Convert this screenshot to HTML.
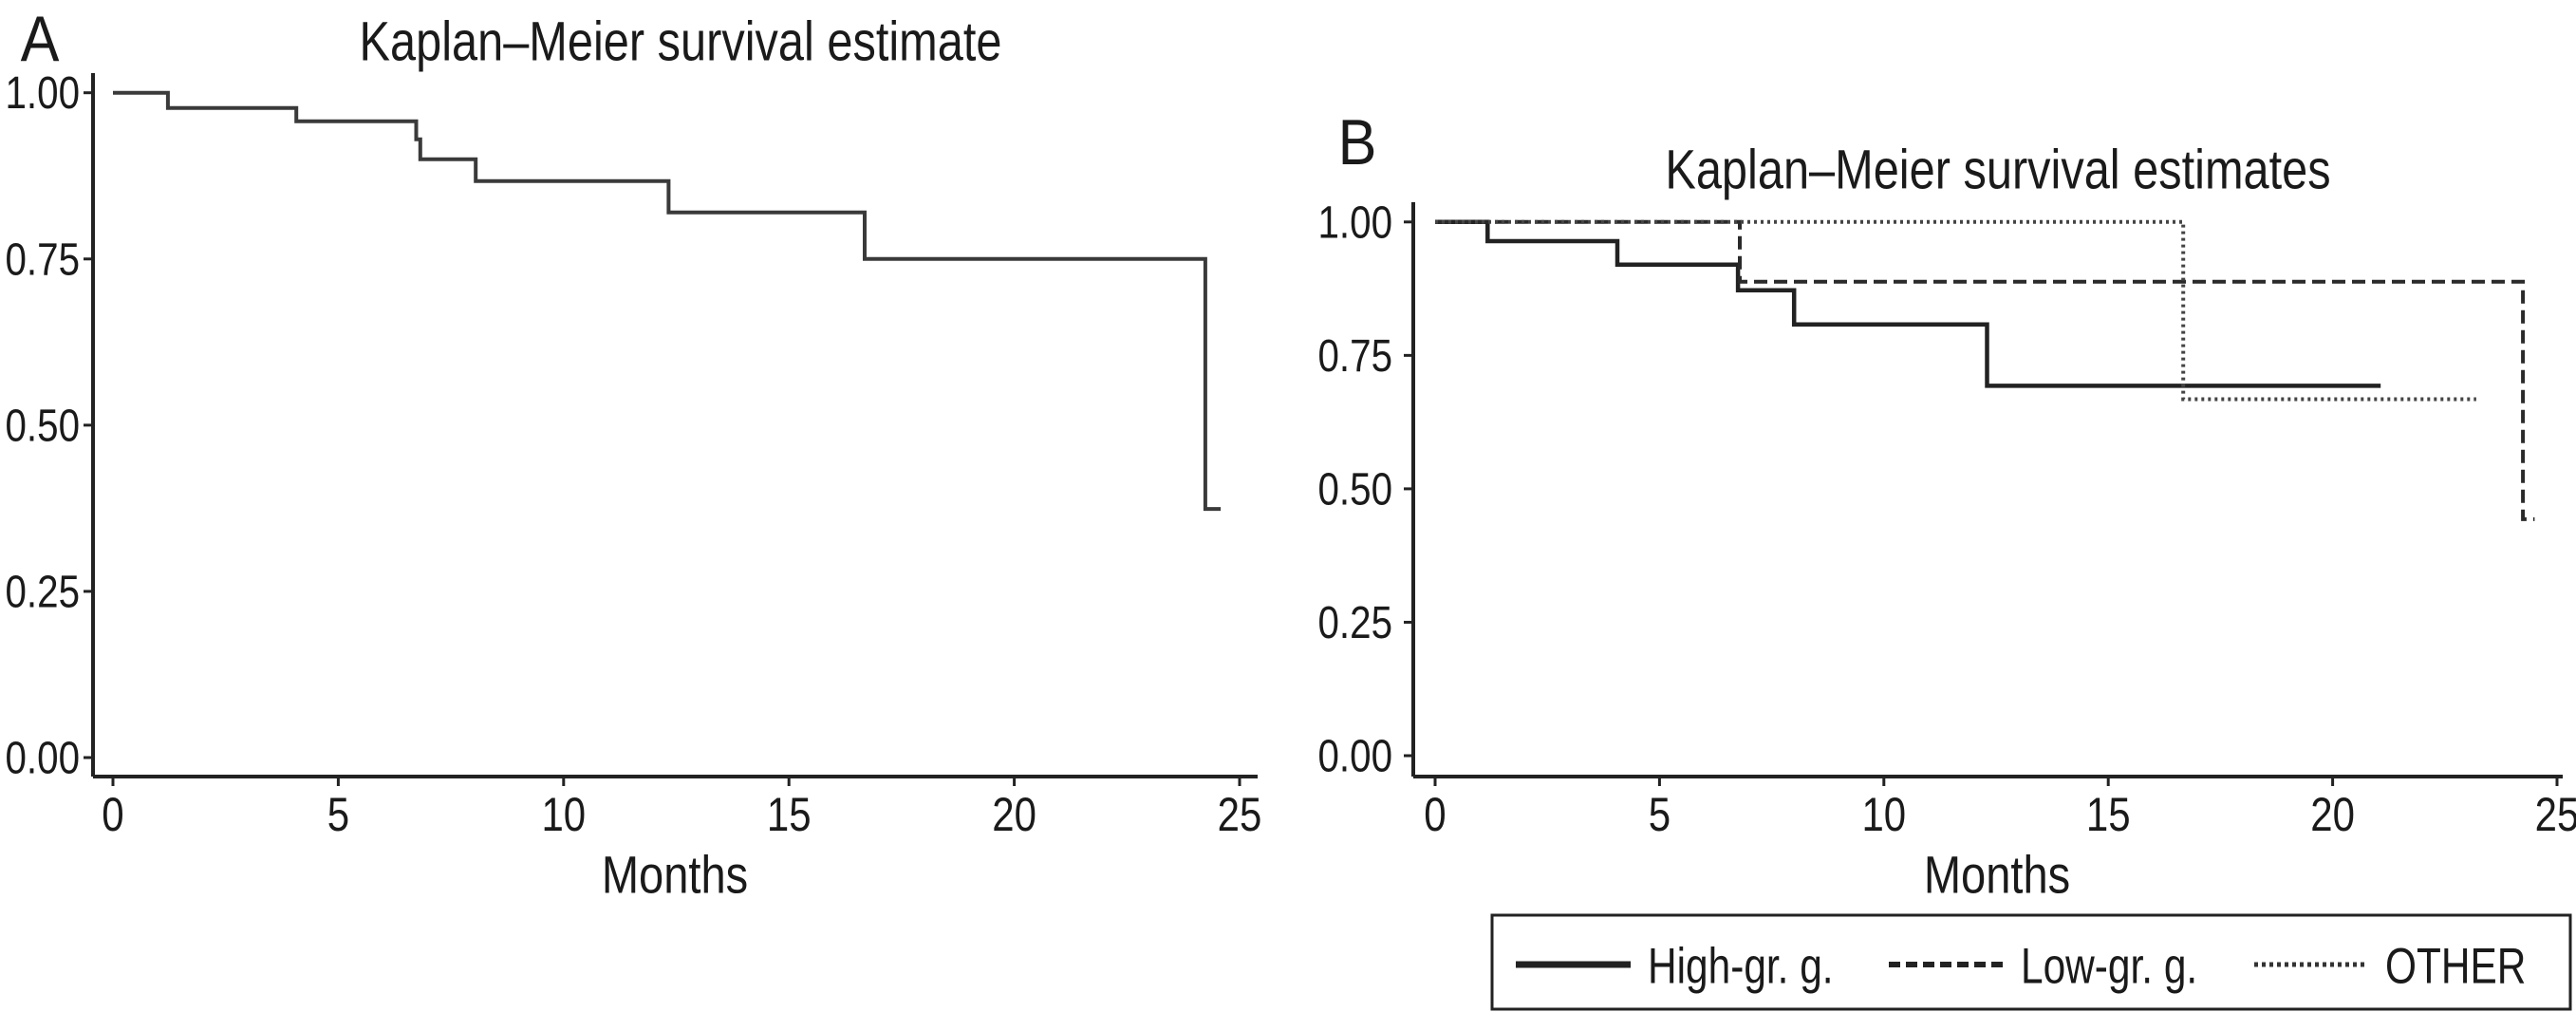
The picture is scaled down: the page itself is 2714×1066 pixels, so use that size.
<!DOCTYPE html>
<html><head><meta charset="utf-8"><style>
html,body{margin:0;padding:0;background:#fff}
svg{display:block}
text{font-family:"Liberation Sans",Arial,sans-serif;fill:#1a1a1a}
</style></head><body>
<svg id="chart" width="2714" height="1066" xmlns="http://www.w3.org/2000/svg"></svg>
<script>
const ticksX = [0,5,10,15,20,25];
const ticksY = [0,0.25,0.5,0.75,1];
const tickYLabels = ["0.00","0.25","0.50","0.75","1.00"];
// Panel A
const aTimes = [0,1.22,4.07,6.73,6.82,8.05,12.33,16.68,24.24,24.58];
const aSurv  = [1,0.977,0.957,0.93,0.90,0.867,0.82,0.75,0.374,0.374];
// Panel B
const highTimes = [0,1.17,4.06,6.75,8.0,12.3,21.07];
const highSurv  = [1,0.964,0.92,0.872,0.808,0.693,0.693];
const lowTimes  = [0,6.79,24.24,24.5];
const lowSurv   = [1,0.888,0.443,0.443];
const otherTimes = [0,16.67,23.2];
const otherSurv  = [1,0.668,0.668];

const NS="http://www.w3.org/2000/svg";
const svg=document.getElementById('chart');
function mk(tag,attrs,parent){const e=document.createElementNS(NS,tag);for(const k in attrs)e.setAttribute(k,attrs[k]);(parent||svg).appendChild(e);return e;}
function txt(s,x,y,size,anchor,parent,squeeze){
  const t=mk('text',{x:x,y:y,'font-size':size,'text-anchor':anchor||'middle','dominant-baseline':'central'},parent);
  t.textContent=s;
  const w=t.getComputedTextLength();
  t.setAttribute('textLength',(w*(squeeze||0.84)).toFixed(1));
  t.setAttribute('lengthAdjust','spacingAndGlyphs');
  return t;
}
function stepPath(times,surv,sx,sy){
  let d='M'+sx(times[0])+','+sy(surv[0]);
  for(let i=1;i<times.length;i++){d+=' H'+sx(times[i]).toFixed(1)+' V'+sy(surv[i]).toFixed(1);}
  return d;
}
function panel(cfg){
  const g=mk('g',{});
  
  
  const sx=v=>cfg.x0+(cfg.x25-cfg.x0)*v/25;
  const sy=v=>cfg.y0+(cfg.y1-cfg.y0)*v;
  const ya=mk('line',{x1:cfg.ax,y1:cfg.top,x2:cfg.ax,y2:cfg.axisY,stroke:'#222','stroke-width':4},g);
  
  const xa=mk('line',{x1:cfg.ax,y1:cfg.axisY,x2:cfg.right,y2:cfg.axisY,stroke:'#222','stroke-width':4},g);
  
  ticksY.forEach((v,i)=>{
    mk('line',{x1:cfg.ax-10,y1:sy(v),x2:cfg.ax,y2:sy(v),stroke:'#222','stroke-width':3},g);
    const t=txt(tickYLabels[i],cfg.labEnd,sy(v)+1,48,'end',g);
    
  });
  ticksX.forEach(v=>{
    mk('line',{x1:sx(v),y1:cfg.axisY,x2:sx(v),y2:cfg.axisY+10,stroke:'#222','stroke-width':3},g);
    const t=txt(String(v),sx(v),858,50,'middle',g);
    
  });
  const xt=txt('Months',cfg.monthsX,921,56,'middle',g);
  
  const tt=txt(cfg.title,cfg.titleX,cfg.titleY,58,'middle',g);
  
  const lt=txt(cfg.letter,cfg.letterX,cfg.letterY,68,'middle',g,0.9);
  
  return {g,sx,sy};
}
const A=panel({name:'panel-a',x0:119,x25:1306,y0:798,y1:97.7,ax:98,top:77,axisY:818,right:1325,labEnd:84,monthsX:711,title:'Kaplan\u2013Meier survival estimate',titleX:717,titleY:44,letter:'A',letterX:42,letterY:41});
const pa=mk('path',{d:stepPath(aTimes,aSurv,A.sx,A.sy),fill:'none',stroke:'#3a3a3a','stroke-width':4},A.g);


const B=panel({name:'panel-b',x0:1512,x25:2694,y0:796,y1:233.8,ax:1489,top:213,axisY:818,right:2700,labEnd:1467,monthsX:2104,title:'Kaplan\u2013Meier survival estimates',titleX:2105,titleY:179,letter:'B',letterX:1430,letterY:150});
const ph=mk('path',{d:stepPath(highTimes,highSurv,B.sx,B.sy),fill:'none',stroke:'#222','stroke-width':4.5},B.g);

const pl=mk('path',{d:stepPath(lowTimes,lowSurv,B.sx,B.sy),fill:'none',stroke:'#2a2a2a','stroke-width':4,'stroke-dasharray':'14 7'},B.g);

const po=mk('path',{d:stepPath(otherTimes,otherSurv,B.sx,B.sy),fill:'none',stroke:'#444','stroke-width':4,'stroke-dasharray':'3 4'},B.g);


// legend
const lg=mk('g',{});

mk('rect',{x:1572,y:964,width:1136,height:99,fill:'#fff',stroke:'#222','stroke-width':3},lg);
const items=[['High-gr. g.',1597,1718,1736,null,7,'#222'],['Low-gr. g.',1990,2111,2129,'12 6',6,'#222'],['OTHER',2375,2491,2513,'4 4',5,'#333']];
items.forEach(it=>{
  const e=mk('g',{},lg);
  
  const a={x1:it[1],y1:1016,x2:it[2],y2:1016,stroke:it[6],'stroke-width':it[5]};
  if(it[4])a['stroke-dasharray']=it[4];
  mk('line',a,e);
  txt(it[0],it[3],1018,53,'start',e,0.8);
});
</script>
</body></html>
